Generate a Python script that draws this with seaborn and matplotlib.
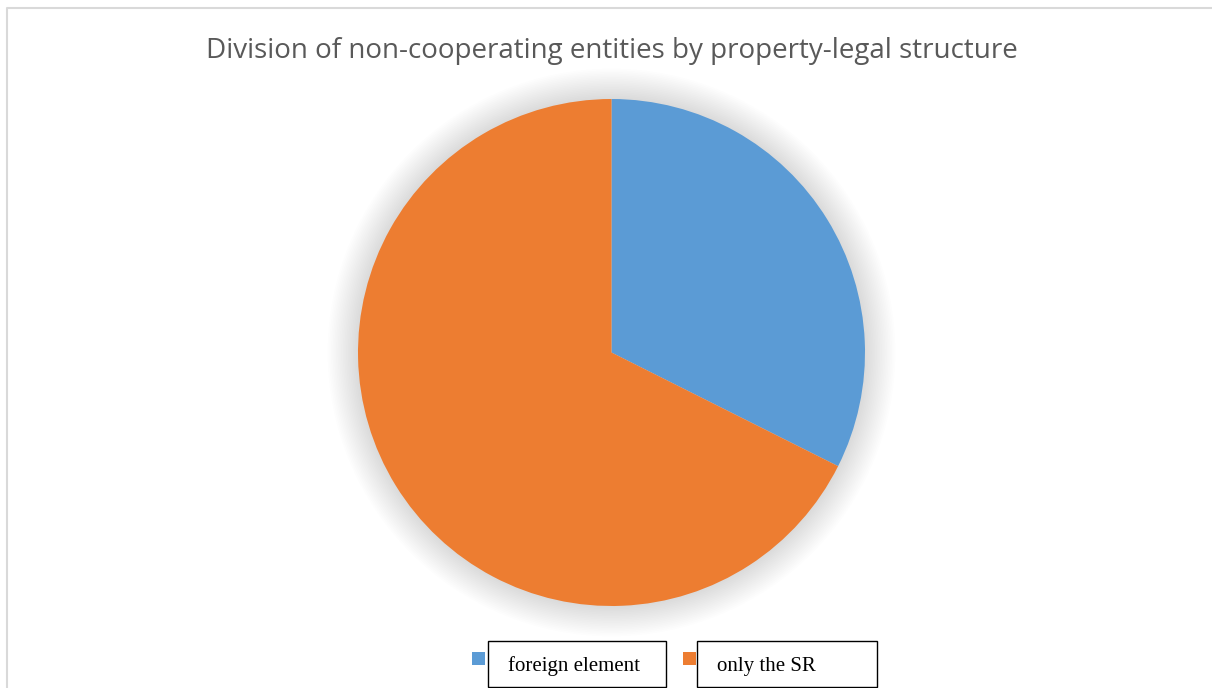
import matplotlib
matplotlib.use("Agg")
import matplotlib.pyplot as plt
from matplotlib.patches import Circle, Rectangle
import numpy as np
import seaborn as sns

# Share of non-cooperating entities by property-legal structure (%)
categories = ["foreign element", "only the SR"]
shares = [32.4, 67.6]
colors = ["#5B9BD5", "#ED7D31"]
title = "Division of non-cooperating entities by property-legal structure"

sns.set_theme(style="white")
plt.rcParams["font.family"] = ["Open Sans", "DejaVu Sans"]

W, H = 1212, 688
fig = plt.figure(figsize=(W / 100, H / 100), dpi=100)
fig.patch.set_facecolor("white")

# light chart-area frame (left and top edges visible)
frame = fig.add_axes([0, 0, 1, 1], zorder=-5)
frame.set_xlim(0, W)
frame.set_ylim(H, 0)
frame.axis("off")
frame.plot([6.5, 6.5, W + 5], [H + 5, 7.5, 7.5], color="#d9d9d9", lw=1.5)

# title
fig.text(612 / W, 1 - 51 / H, title, ha="center", va="center",
         fontsize=20, color="#595959")

# pie axes sized to the pie's bounding box
cx, cy, r = 611.5, 352.5, 253.5
ax = fig.add_axes([(cx - r) / W, 1 - (cy + r) / H, 2 * r / W, 2 * r / H])
ax.set_xlim(-1, 1)
ax.set_ylim(-1, 1)
ax.axis("off")

# soft glow around the pie
n = 18
for i in range(n):
    rad = 1.0 + 0.12 * (n - i) / n
    ax.add_patch(Circle((0, 0), rad, facecolor="black", edgecolor="none",
                        alpha=0.009, clip_on=False, zorder=0))

ax.pie(shares, colors=colors, startangle=90, counterclock=False, radius=1,
       wedgeprops=dict(linewidth=0, zorder=2), frame=False)
ax.set_xlim(-1, 1)
ax.set_ylim(-1, 1)

# legend: colour squares beside framed labels
leg = fig.add_axes([0, 0, 1, 1], zorder=5)
leg.set_xlim(0, W)
leg.set_ylim(H, 0)
leg.axis("off")
items = [
    (472, 488, 666),
    (683, 697, 877),
]
for (sq_x, bx0, bx1), label, col in zip(items, categories, colors):
    leg.add_patch(Rectangle((sq_x, 652), 13, 13, facecolor=col, edgecolor="none"))
    leg.add_patch(Rectangle((bx0, 640.5), bx1 - bx0, 46, facecolor="white",
                            edgecolor="black", linewidth=1.0))
    leg.text(bx0 + 20, 666, label, ha="left", va="center", fontsize=15,
             family=["Liberation Serif", "DejaVu Serif"], color="black")

fig.savefig("out.png", dpi=100, facecolor="white")
